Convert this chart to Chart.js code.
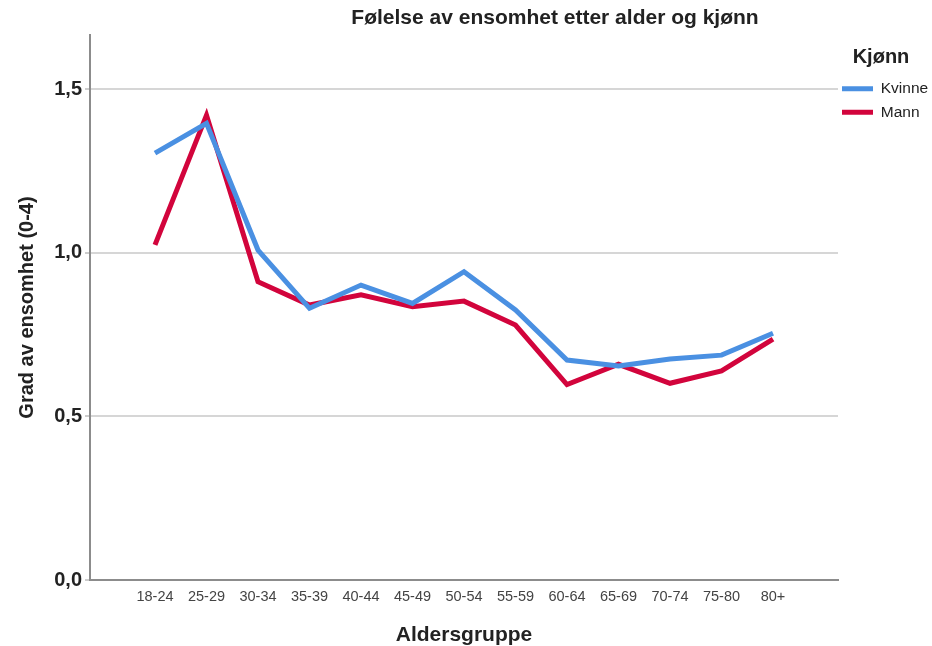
<!DOCTYPE html>
<html>
<head>
<meta charset="utf-8">
<script src="https://cdn.jsdelivr.net/npm/chart.js@4"></script>
<style>
  html, body { margin: 0; padding: 0; background: #fff; }
  #wrap { width: 932px; height: 646px; }
</style>
</head>
<body>
<div id="wrap"><canvas id="c" width="932" height="646"></canvas></div>
<script>
const categories = ['18-24','25-29','30-34','35-39','40-44','45-49','50-54','55-59','60-64','65-69','70-74','75-80','80+'];
const kvinne = [1.304, 1.395, 1.008, 0.830, 0.901, 0.845, 0.942, 0.825, 0.672, 0.654, 0.675, 0.687, 0.754];
const mann   = [1.024, 1.420, 0.911, 0.840, 0.871, 0.835, 0.852, 0.779, 0.597, 0.659, 0.601, 0.639, 0.736];
const yTicks = [0, 0.5, 1.0, 1.5];
const seriesNames = ['Kvinne', 'Mann'];

const FONT = "'Liberation Sans', Arial, sans-serif";

const positionTweaks = {
  id: 'positionTweaks',
  afterLayout(chart) {
    const t = chart.titleBlock;
    if (t) { t.left = 178; t.right = 932; }
    const lg = chart.legend;
    if (lg) { lg.left -= 4; lg.right -= 4; }
  }
};

new Chart(document.getElementById('c'), {
  type: 'line',
  data: {
    datasets: [
      { label: seriesNames[0], data: kvinne.map((v, i) => ({x: i, y: v})),
        borderColor: '#4a90e2', backgroundColor: '#4a90e2', borderWidth: 5,
        pointRadius: 0, tension: 0, fill: false },
      { label: seriesNames[1], data: mann.map((v, i) => ({x: i, y: v})),
        borderColor: '#d2043c', backgroundColor: '#d2043c', borderWidth: 5,
        pointRadius: 0, tension: 0, fill: false }
    ]
  },
  options: {
    responsive: false,
    animation: false,
    layout: { padding: { left: 0, right: 0, top: 0, bottom: 0 } },
    plugins: {
      title: {
        display: true,
        text: 'Følelse av ensomhet etter alder og kjønn',
        color: '#222',
        font: { family: FONT, size: 21, weight: 'bold' },
        padding: { top: 5.4, bottom: 4.4 }
      },
      legend: {
        display: true,
        position: 'right',
        align: 'start',
        maxWidth: 94,
        title: {
          display: true,
          text: 'Kjønn',
          color: '#222',
          font: { family: FONT, size: 20, weight: 'bold' },
          padding: { top: 47, bottom: 2 }
        },
        labels: {
          boxWidth: 31,
          boxHeight: 5,
          padding: 8,
          color: '#333',
          font: { family: FONT, size: 15.5 },
          generateLabels: (chart) => chart.data.datasets.map((d, i) => ({
            text: d.label, fillStyle: d.borderColor, strokeStyle: d.borderColor,
            lineWidth: 0, hidden: false, datasetIndex: i
          }))
        }
      },
      tooltip: { enabled: false }
    },
    scales: {
      x: {
        type: 'linear',
        min: -1.262,
        max: 13.262,
        afterBuildTicks: (s) => { s.ticks = categories.map((_, i) => ({ value: i })); },
        afterFit: (s) => { s.height = 66; },
        grid: { display: false, drawTicks: false },
        border: { display: true, color: '#8c8c8c', width: 2 },
        ticks: {
          autoSkip: false, maxRotation: 0, minRotation: 0, padding: 8,
          color: '#444',
          font: { family: FONT, size: 14.5 },
          callback: (v) => categories[v] ?? ''
        },
        title: {
          display: true, text: 'Aldersgruppe', color: '#222',
          font: { family: FONT, size: 21, weight: 'bold' },
          padding: { top: 0, bottom: -2 }
        }
      },
      y: {
        min: 0,
        max: 1.665,
        afterBuildTicks: (s) => { s.ticks = yTicks.map(v => ({ value: v })); },
        afterFit: (s) => { s.width = 90; },
        grid: { display: true, color: '#d6d6d6', lineWidth: 2, drawTicks: true, tickLength: 5, tickColor: '#9a9a9a', tickWidth: 1 },
        border: { display: true, color: '#8c8c8c', width: 2 },
        ticks: {
          padding: 3, color: '#222',
          font: { family: FONT, size: 20, weight: 'bold' },
          callback: (v) => Number(v).toFixed(1).replace('.', ',')
        },
        title: {
          display: true, text: 'Grad av ensomhet (0-4)', color: '#222',
          font: { family: FONT, size: 20, weight: 'bold' },
          padding: { top: 15, bottom: 0 }
        }
      }
    }
  },
  plugins: [positionTweaks]
});
</script>
</body>
</html>
